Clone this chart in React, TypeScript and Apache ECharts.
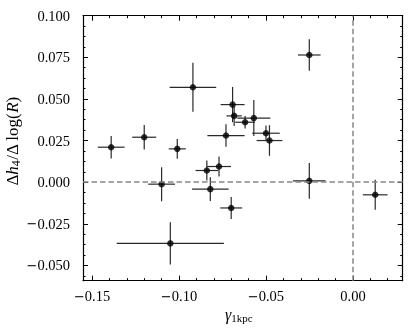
import React, { useEffect, useRef } from "react";
import * as echarts from "echarts";

const gammaX = [-0.139, -0.120, -0.101, -0.092, -0.110, -0.105, -0.084, -0.077, -0.082, -0.070, -0.073, -0.0692, -0.0683, -0.062, -0.057, -0.050, -0.048, -0.0251, -0.0251, 0.0128];
const dh4Y = [0.021, 0.027, 0.020, 0.057, -0.0012, -0.0368, 0.007, 0.0094, -0.0042, -0.0155, 0.028, 0.0466, 0.0398, 0.036, 0.0385, 0.0294, 0.025, 0.0764, 0.0008, -0.0076];
const xErr = [0.0077, 0.0069, 0.0049, 0.0134, 0.0077, 0.0308, 0.0065, 0.0069, 0.0105, 0.0063, 0.0107, 0.0069, 0.0044, 0.0057, 0.0095, 0.0079, 0.0074, 0.0065, 0.0094, 0.0071];
const yErr = [0.0068, 0.0074, 0.006, 0.0147, 0.0102, 0.0127, 0.006, 0.006, 0.0071, 0.0066, 0.0068, 0.0106, 0.006, 0.0038, 0.0108, 0.0046, 0.0092, 0.0095, 0.0107, 0.009];

const xMajorTicks = [-0.15, -0.1, -0.05, 0.0];
const yMajorTicks = [-0.05, -0.025, 0.0, 0.025, 0.05, 0.075, 0.1];
const xMinorTicks = [-0.15, -0.14, -0.13, -0.12, -0.11, -0.1, -0.09, -0.08, -0.07, -0.06, -0.05, -0.04, -0.03, -0.02, -0.01, 0.0, 0.01, 0.02];
const yMinorTicks = [-0.05625, -0.05, -0.04375, -0.0375, -0.03125, -0.025, -0.01875, -0.0125, -0.00625, 0, 0.00625, 0.0125, 0.01875, 0.025, 0.03125, 0.0375, 0.04375, 0.05, 0.05625, 0.0625, 0.06875, 0.075, 0.08125, 0.0875, 0.09375, 0.1];

const X_MIN = -0.1552;
const X_MAX = 0.0286;
const Y_MIN = -0.0592;
const Y_MAX = 0.1;

const FONT = "Liberation Serif";
const fmt = (d: number) => (v: number) => {
  const s = Math.abs(v).toFixed(d);
  return v < -1e-9 ? "{m|\u2212}{n|" + s + "}" : "{n|" + s + "}";
};
const labelRich = {
  m: { fontFamily: "DejaVu Sans", fontSize: 13, color: "#000" },
  n: { fontFamily: FONT, fontSize: 14.5, color: "#000" },
};

export default function App() {
  const ref = useRef<HTMLDivElement>(null);
  useEffect(() => {
    if (!ref.current) return;
    const chart = echarts.init(ref.current, undefined, { renderer: "svg" });
    const frame = { show: true, lineStyle: { color: "#000", width: 1.2 } };
    const mkX = (pos: "top" | "bottom", vals: number[], len: number, labels: boolean, line: boolean, name?: any) => ({
      type: "value",
      position: pos,
      min: X_MIN,
      max: X_MAX,
      nameMoveOverlap: false,
      axisLine: line ? { ...frame, onZero: false } : { show: false, onZero: false },
      axisTick: { show: true, inside: true, length: len, customValues: vals, lineStyle: { color: "#000", width: 1 } },
      axisLabel: labels
        ? { show: true, customValues: xMajorTicks, formatter: fmt(2), rich: labelRich, fontFamily: FONT, fontSize: 14.5, color: "#000", margin: 8 }
        : { show: false },
      splitLine: { show: false },
      ...(name || {}),
    });
    const mkY = (pos: "left" | "right", vals: number[], len: number, labels: boolean, line: boolean, name?: any) => ({
      type: "value",
      position: pos,
      min: Y_MIN,
      max: Y_MAX,
      nameMoveOverlap: false,
      axisLine: line ? { ...frame, onZero: false } : { show: false, onZero: false },
      axisTick: { show: true, inside: true, length: len, customValues: vals, lineStyle: { color: "#000", width: 1 } },
      axisLabel: labels
        ? { show: true, customValues: yMajorTicks, formatter: fmt(3), rich: labelRich, fontFamily: FONT, fontSize: 14.5, color: "#000", margin: 13 }
        : { show: false },
      splitLine: { show: false },
      ...(name || {}),
    });
    const points = gammaX.map((x, i) => [x, dh4Y[i], xErr[i], yErr[i]]);
    chart.setOption({
      animation: false,
      grid: { left: 83, right: 12.3, top: 15.7, bottom: 51.3, containLabel: false, outerBoundsMode: "none" },
      xAxis: [
        mkX("bottom", xMajorTicks, 5, true, true, {
          name: "{g|γ}{s|1kpc}",
          nameLocation: "middle",
          nameGap: 25,
          nameTextStyle: {
            padding: [0, 8, 0, 0],
            rich: {
              g: { fontFamily: FONT, fontStyle: "italic", fontSize: 16, color: "#000" },
              s: { fontFamily: FONT, fontSize: 11, color: "#000", padding: [7, 0, 0, 0] },
            },
          },
        }),
        mkX("bottom", xMinorTicks, 2.5, false, false),
        mkX("top", xMajorTicks, 5, false, true),
        mkX("top", xMinorTicks, 2.5, false, false),
      ],
      yAxis: [
        mkY("left", yMajorTicks, 5, true, true, {
          name: "{d|Δ}{i|h}{s|4}{d|/Δ log(}{i|R}{d|)}",
          nameLocation: "middle",
          nameGap: 61,
          nameTextStyle: {
            padding: [0, 0, 0, 14],
            rich: {
              d: { fontFamily: FONT, fontSize: 17, color: "#000" },
              i: { fontFamily: FONT, fontStyle: "italic", fontSize: 17, color: "#000" },
              s: { fontFamily: FONT, fontSize: 12, color: "#000", padding: [8, 0, 0, 0] },
            },
          },
        }),
        mkY("left", yMinorTicks, 2.5, false, false),
        mkY("right", yMajorTicks, 5, false, true),
        mkY("right", yMinorTicks, 2.5, false, false),
      ],
      series: [
        {
          type: "custom",
          xAxisIndex: 0,
          yAxisIndex: 0,
          silent: true,
          z: 3,
          data: points,
          renderItem: (params: any, api: any) => {
            const x = api.value(0), y = api.value(1), xe = api.value(2), ye = api.value(3);
            const l = api.coord([x - xe, y]);
            const r = api.coord([x + xe, y]);
            const t = api.coord([x, y + ye]);
            const b = api.coord([x, y - ye]);
            const st = { stroke: "#2a2a2a", lineWidth: 1.2 };
            return {
              type: "group",
              children: [
                { type: "line", shape: { x1: l[0], y1: l[1], x2: r[0], y2: r[1] }, style: st },
                { type: "line", shape: { x1: t[0], y1: t[1], x2: b[0], y2: b[1] }, style: st },
              ],
            };
          },
        },
        {
          type: "scatter",
          xAxisIndex: 0,
          yAxisIndex: 0,
          z: 4,
          symbol: "circle",
          symbolSize: 6.5,
          itemStyle: { color: "#000" },
          data: points.map((p) => [p[0], p[1]]),
          markLine: {
            silent: true,
            symbol: "none",
            label: { show: false },
            lineStyle: { color: "#888", width: 1.5, type: [5.5, 3] },
            data: [{ yAxis: 0 }, { xAxis: 0 }],
          },
        },
      ],
    });
    return () => chart.dispose();
  }, []);
  return <div ref={ref} style={{ position: "fixed", left: 0, top: 0, width: 415, height: 332 }} />;
}
